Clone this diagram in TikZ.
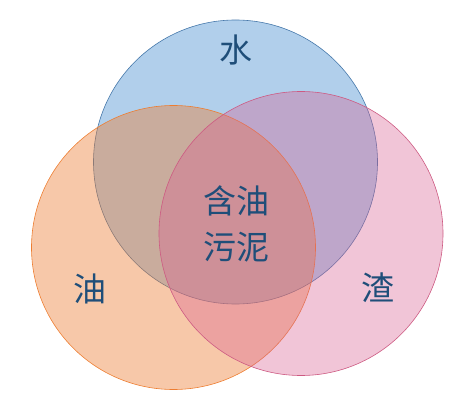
\documentclass[tikz,border=0pt]{standalone}
\usepackage{fontspec}
\newfontfamily\cjk{Noto Sans CJK SC}
\definecolor{bluefill}{RGB}{91,155,213}
\definecolor{blueedge}{RGB}{70,120,170}
\definecolor{orangefill}{RGB}{237,125,49}
\definecolor{orangeedge}{RGB}{237,125,49}
\definecolor{pinkfill}{RGB}{215,95,145}
\definecolor{pinkedge}{RGB}{205,90,130}
\definecolor{txt}{RGB}{31,78,121}
\tikzset{
  setcircle/.style={circle, minimum size=284pt, inner sep=0pt, line width=0.6pt, fill opacity=0.5, draw opacity=1},
  lbl/.style={font=\cjk\fontsize{33}{46}\selectfont, text=txt, align=center, inner sep=0pt}
}
\begin{document}
\begin{tikzpicture}[x=1pt,y=1pt]
\useasboundingbox (0,0) rectangle (476,402);
\node[setcircle, fill=bluefill, draw=blueedge, fill opacity=0.48] (water) at (235.5,240) {};
\node[setcircle, fill=orangefill, draw=orangeedge, fill opacity=0.42] (oil) at (173.5,154.5) {};
\node[setcircle, fill=pinkfill, draw=pinkedge, fill opacity=0.36] (slag) at (301,168.5) {};
\node[lbl] (lw) at (236,352) {水};
\node[lbl] (lo) at (90,113.5) {油};
\node[lbl] (ls) at (377.5,114) {渣};
\node[lbl] (lc) at (236.5,178) {含油\\污泥};
\end{tikzpicture}
\end{document}
